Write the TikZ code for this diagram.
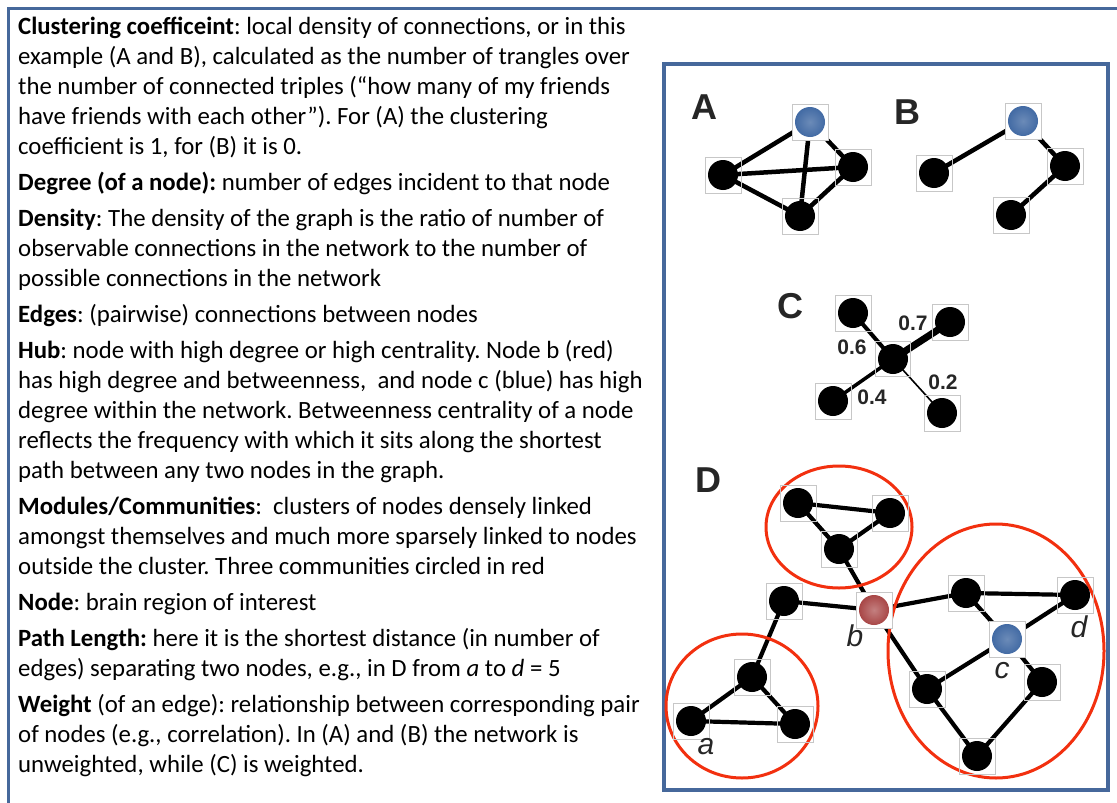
\documentclass[tikz,border=0pt]{standalone}
\usepackage{fontspec}
\setmainfont{Carlito}
\newfontfamily\labelfont{Liberation Sans}
\usepackage{xcolor}
\usetikzlibrary{backgrounds}
\definecolor{frameblue}{HTML}{46689B}
\definecolor{nodeblue}{HTML}{3A64A0}
\definecolor{nodered}{HTML}{A33B3B}
\definecolor{ringred}{HTML}{F2300F}
\tikzset{
  sqbox/.style={rectangle, minimum size=36pt, inner sep=0pt, draw=black!22, line width=0.7pt},
  blk/.style={sqbox, path picture={\fill[black] (path picture bounding box.center) circle (15pt);}},
  bluedot/.style={sqbox, fill=white, path picture={\shade[inner color=nodeblue!75, outer color=nodeblue] (path picture bounding box.center) circle (15pt);}},
  reddot/.style={sqbox, fill=white, path picture={\shade[inner color=nodered!65, outer color=nodered] (path picture bounding box.center) circle (15pt);}},
  panel/.style={font=\labelfont\bfseries\fontsize{36}{36}\selectfont, text=black!85},
  weight/.style={font=\labelfont\bfseries\fontsize{21}{21}\selectfont, text=black!85},
  tag/.style={font=\labelfont\itshape\fontsize{30}{30}\selectfont, text=black!85},
  ring/.style={draw=ringred, line width=3pt},
  link/.style={black, line width=4.5pt}
}
\begin{document}
\frenchspacing
\begin{tikzpicture}[x=1pt,y=-1pt]
  \useasboundingbox (0,0) rectangle (1117,803);
  % frames
  \draw[frameblue, line width=3pt] (8,803) -- (8,8) -- (1117,8);
  \draw[frameblue, line width=3.5pt] (664,64) rectangle (1108,790);
  % glossary (anchored on the baseline of its last line)
  \node[anchor=base west, inner sep=0pt, align=left,
        font=\fontsize{24.8}{30}\selectfont] (gloss) at (18,772) {%
    \textbf{Clustering coefficeint}: local density of connections, or in this\\
    example (A and B), calculated as the number of trangles over\\
    the number of connected triples (“how many of my friends\\
    have friends with each other”). For (A) the clustering\\
    coefficient is 1, for (B) it is 0.\\[6pt]
    \textbf{Degree (of a node):} number of edges incident to that node\\[6pt]
    \textbf{Density}: The density of the graph is the ratio of number of\\
    observable connections in the network to the number of\\
    possible connections in the network\\[6pt]
    \textbf{Edges}: (pairwise) connections between nodes\\[6pt]
    \textbf{Hub}: node with high degree or high centrality. Node b (red)\\
    has high degree and betweenness,\ \ and node c (blue) has high\\
    degree within the network. Betweenness centrality of a node\\
    reflects the frequency with which it sits along the shortest\\
    path between any two nodes in the graph.\\[6pt]
    \textbf{Modules/Communities}:\ \ clusters of nodes densely linked\\
    amongst themselves and much more sparsely linked to nodes\\
    outside the cluster. Three communities circled in red\\[6pt]
    \textbf{Node}: brain region of interest\\[6pt]
    \textbf{Path Length:} here it is the shortest distance (in number of\\
    edges) separating two nodes, e.g., in D from \textit{a} to \textit{d} = 5\\[6pt]
    \textbf{Weight} (of an edge): relationship between corresponding pair\\
    of nodes (e.g., correlation). In (A) and (B) the network is\\
    unweighted, while (C) is weighted.};
  % A: complete graph
  \node[panel] (labA) at (704,107) {A};
  \node[bluedot] (A1) at (810,122) {};
  \node[blk] (A2) at (723,175) {};
  \node[blk] (A3) at (853,167) {};
  \node[blk] (A4) at (800,216) {};
  % B: open triple
  \node[panel] (labB) at (907,112) {B};
  \node[bluedot] (B1) at (1023,121) {};
  \node[blk] (B2) at (934,173) {};
  \node[blk] (B3) at (1065,166) {};
  \node[blk] (B4) at (1011,215) {};
  % C: weighted star
  \node[panel] (labC) at (790,306) {C};
  \node[blk, minimum size=35pt] (C0) at (893,359) {};
  \node[blk] (C1) at (853,313) {};
  \node[blk] (C2) at (950,322) {};
  \node[blk] (C3) at (833,401) {};
  \node[blk] (C4) at (942,413) {};
  \node[weight] (w7) at (913,323) {0.7};
  \node[weight] (w6) at (852,347) {0.6};
  \node[weight] (w4) at (872,397) {0.4};
  \node[weight] (w2) at (943,382) {0.2};
  % D: three communities
  \node[panel] (labD) at (708,480) {D};
  \draw[ring] (839,527) ellipse (73 and 61);
  \draw[ring] (742,706) ellipse (76 and 72);
  \draw[ring] (996,651) ellipse (108 and 127);
  \node[blk] (t1) at (798,503) {};
  \node[blk] (t2) at (890,513) {};
  \node[blk] (t3) at (839,549) {};
  \node[blk] (n1) at (784,601) {};
  \node[reddot] (b) at (874,610) {};
  \node[blk] (l1) at (752,677) {};
  \node[blk] (a) at (691,721) {};
  \node[blk] (l3) at (795,724) {};
  \node[blk] (r1) at (966,593) {};
  \node[blk] (d) at (1075,595) {};
  \node[bluedot] (c) at (1007,639) {};
  \node[blk] (r4) at (927,689) {};
  \node[blk] (r5) at (1042,682) {};
  \node[blk] (r6) at (977,756) {};
  \node[tag] (tb) at (855,636) {b};
  \node[tag] (tc) at (1002,671) {c};
  \node[tag] (td) at (1079,627) {d};
  \node[tag] (ta) at (706,747) {a};
  % edges under the nodes
  \begin{scope}[on background layer]
    \foreach \u/\v in {A1/A2,A1/A3,A1/A4,A2/A3,A2/A4,A3/A4,B1/B2,B1/B3,B3/B4}
      \draw[link] (\u.center) -- (\v.center);
    \draw[link, line width=7pt] (C0.center) -- (C2.center);
    \draw[link, line width=4pt] (C0.center) -- (C1.center);
    \draw[link, line width=3.5pt] (C0.center) -- (C3.center);
    \draw[link, line width=1.6pt] (C0.center) -- (C4.center);
    \foreach \u/\v in {t1/t2,t1/t3,t2/t3,t3/b,n1/b,n1/l1,l1/a,l1/l3,a/l3,
                       b/r1,b/r4,r1/d,r1/c,d/c,c/r4,c/r5,r5/r6,r4/r6}
      \draw[link, line width=4.2pt] (\u.center) -- (\v.center);
  \end{scope}
\end{tikzpicture}
\end{document}
